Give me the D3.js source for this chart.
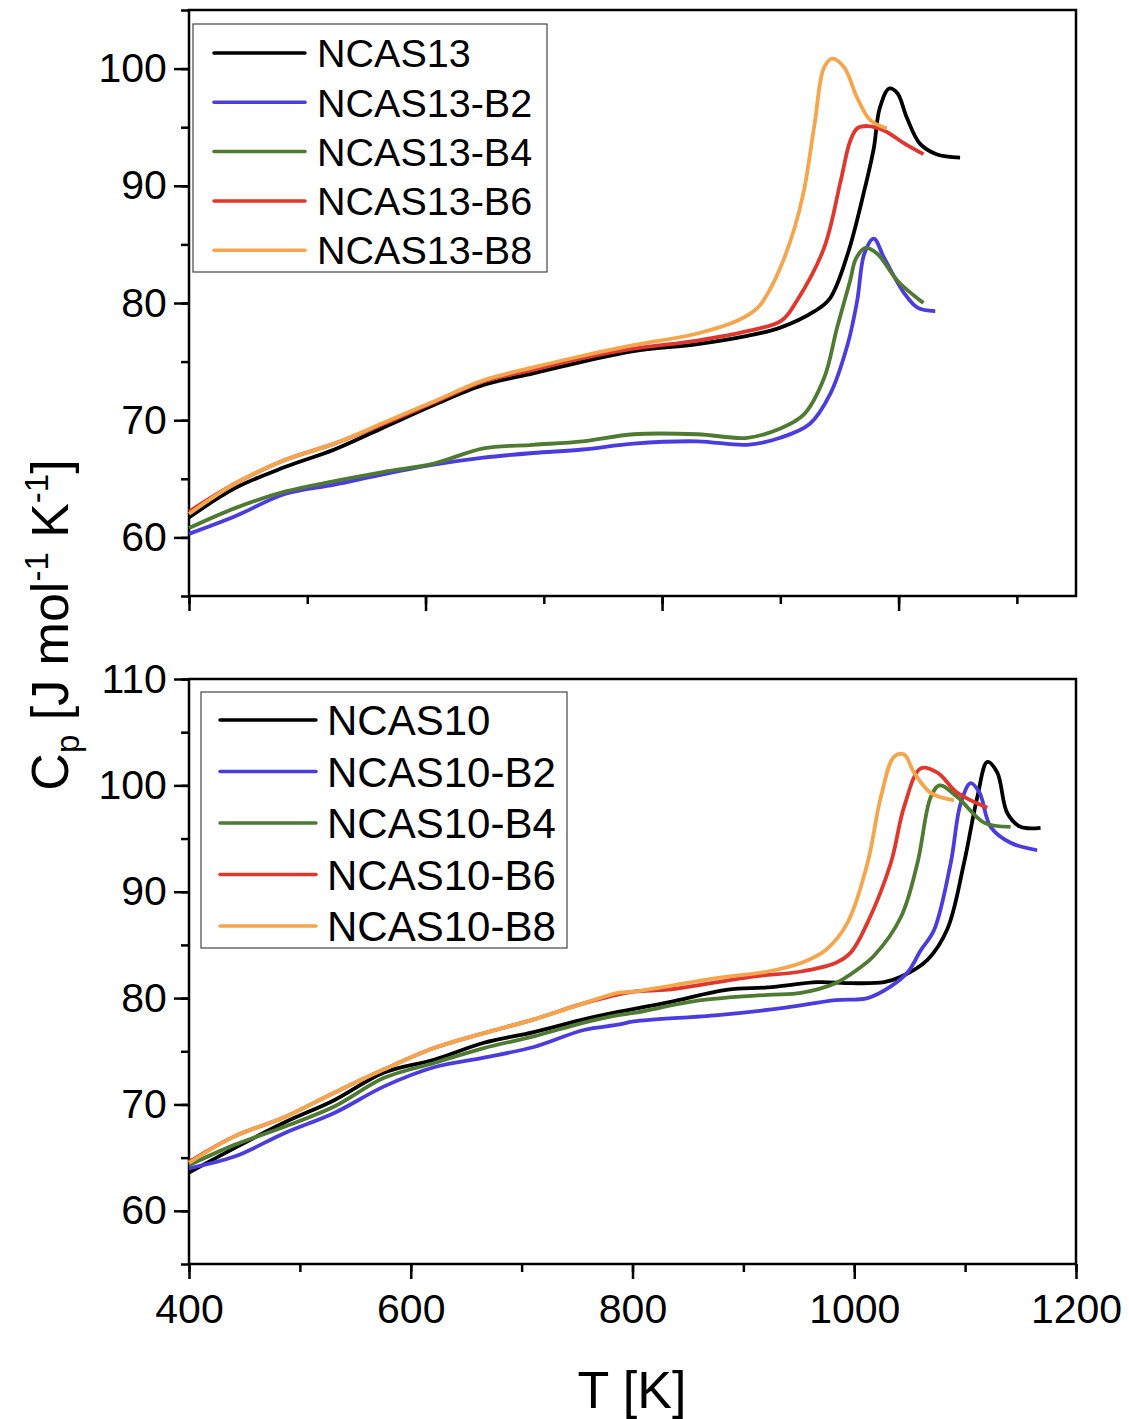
<!DOCTYPE html>
<html>
<head>
<meta charset="utf-8">
<script src="https://cdn.jsdelivr.net/npm/d3@7"></script>
<style>
  body { margin: 0; background: #fff; }
  text { font-family: "Liberation Sans", Arial, sans-serif; fill: #000; }
</style>
</head>
<body>
<div class="container"></div>
<script>
  // series names
  var namesTop = ["NCAS13", "NCAS13-B2", "NCAS13-B4", "NCAS13-B6", "NCAS13-B8"];
  var namesBottom = ["NCAS10", "NCAS10-B2", "NCAS10-B4", "NCAS10-B6", "NCAS10-B8"];
  var colors = ["#000000", "#4b3ce0", "#4e7a32", "#e0362c", "#f5a54c"];

  // tick labels
  var xTicksBottom = [400, 600, 800, 1000, 1200];
  var yTicksTop = [60, 70, 80, 90, 100];
  var yTicksBottom = [60, 70, 80, 90, 100, 110];

  // top panel data [T, Cp]
  var ncas13 = [[400,61.7],[439,64.2],[481,66.0],[523,67.5],[565,69.4],[607,71.3],[649,73.0],[691,74.0],[733,75.0],[776,75.9],[830,76.5],[872,77.2],[900,77.9],[929,79.3],[942,80.4],[957,84.2],[971,89.6],[979,93.2],[984,96.6],[992,98.3],[999,97.9],[1007,95.8],[1018,93.6],[1032,92.7],[1052,92.4]];
  var ncas13b2 = [[400,60.3],[439,61.8],[481,63.7],[523,64.5],[565,65.4],[607,66.2],[649,66.8],[691,67.2],[733,67.5],[776,68.0],[830,68.2],[872,67.9],[900,68.5],[925,69.7],[942,72.2],[957,76.5],[965,80.2],[971,84.2],[979,85.5],[988,83.8],[1005,80.8],[1016,79.6],[1031,79.3]];
  var ncas13b4 = [[400,60.8],[439,62.5],[481,63.9],[523,64.8],[565,65.6],[607,66.3],[649,67.6],[691,67.9],[733,68.2],[776,68.8],[830,68.8],[872,68.5],[900,69.3],[920,70.5],[937,73.6],[948,77.9],[959,81.9],[964,83.8],[972,84.7],[982,84.2],[999,81.9],[1021,80.0]];
  var ncas13b6 = [[400,62.2],[439,64.6],[481,66.6],[523,68.0],[565,69.7],[607,71.5],[649,73.3],[691,74.3],[733,75.3],[776,76.1],[830,76.8],[872,77.6],[901,78.5],[914,80.2],[937,84.7],[951,90.4],[959,93.8],[965,94.9],[974,95.1],[988,94.7],[1005,93.6],[1021,92.7]];
  var ncas13b8 = [[400,62.0],[439,64.6],[481,66.6],[523,68.0],[565,69.8],[607,71.6],[649,73.4],[691,74.5],[733,75.5],[776,76.4],[830,77.4],[864,78.5],[881,79.6],[892,81.3],[900,83.0],[912,86.4],[920,89.6],[929,95.3],[937,100.1],[944,100.85],[954,100.1],[965,97.5],[976,95.6],[990,94.9]];

  // bottom panel data [T, Cp]
  var ncas10 = [[400,63.6],[441,65.9],[486,68.3],[531,70.4],[576,73.0],[621,74.2],[666,75.8],[711,76.8],[756,78.0],[787,78.7],[832,79.6],[886,80.8],[922,81.0],[967,81.5],[997,81.4],[1027,81.5],[1042,82.0],[1066,83.6],[1084,86.5],[1099,92.7],[1111,98.9],[1120,102.2],[1129,101.2],[1138,97.4],[1150,96.1],[1168,96.0]];
  var ncas10b2 = [[400,64.0],[441,65.1],[486,67.3],[531,69.2],[576,71.7],[621,73.5],[666,74.4],[711,75.4],[756,77.0],[787,77.5],[801,77.8],[877,78.4],[938,79.1],[983,79.8],[1012,80.0],[1033,81.1],[1048,82.4],[1060,84.5],[1072,86.4],[1087,92.7],[1096,98.3],[1105,100.2],[1113,99.3],[1123,96.1],[1141,94.6],[1165,93.9]];
  var ncas10b4 = [[400,64.3],[441,66.2],[486,67.9],[531,69.8],[576,72.5],[621,73.9],[666,75.3],[711,76.4],[756,77.7],[787,78.4],[801,78.6],[862,79.8],[922,80.3],[952,80.5],[983,81.4],[1003,82.7],[1018,84.0],[1042,87.6],[1057,92.7],[1069,98.9],[1077,100.0],[1093,98.9],[1117,96.5],[1141,96.1]];
  var ncas10b6 = [[400,64.6],[441,67.0],[486,68.8],[531,71.1],[576,73.3],[621,75.3],[666,76.7],[711,78.0],[756,79.5],[801,80.6],[832,80.8],[907,82.0],[952,82.5],[983,83.3],[997,84.3],[1012,87.1],[1033,92.7],[1045,98.0],[1060,101.6],[1075,101.2],[1093,99.3],[1120,97.9]];
  var ncas10b8 = [[400,64.5],[441,67.0],[486,68.8],[531,71.1],[576,73.3],[621,75.3],[666,76.7],[711,78.0],[756,79.5],[787,80.5],[801,80.6],[877,81.9],[922,82.5],[952,83.3],[974,84.5],[994,87.1],[1012,92.7],[1024,98.9],[1036,102.7],[1045,102.9],[1054,101.2],[1069,99.3],[1090,98.6]];

  var w = 1129;
  var h = 1419;
  var svg = d3.select(".container").append("svg").attr("width", w).attr("height", h);

  //draws one panel
  function drawPanel(opt){
    var x = d3.scaleLinear().domain(opt.xDomain).range([189, 1076]);
    var y = d3.scaleLinear().domain(opt.yDomain).range([opt.bottom, opt.top]);
    var g = svg.append("g");

    // frame
    g.append("rect")
      .attr("x", 189).attr("y", opt.top)
      .attr("width", 1076 - 189).attr("height", opt.bottom - opt.top)
      .attr("fill", "none").attr("stroke", "#000").attr("stroke-width", 2.5);

    // x axis
    var xMinor = d3.range(opt.xDomain[0], opt.xDomain[1] + 1, 100);
    var xMajor = xMinor.filter(function(d){ return d % 200 == 0; });
    var xAxis = g.append("g").attr("transform", "translate(0," + opt.bottom + ")");
    xAxis.call(d3.axisBottom(x).tickValues(xMinor).tickSize(8).tickFormat(""));
    xAxis.append("g").call(d3.axisBottom(x).tickValues(xMajor).tickSize(15)
      .tickFormat(opt.xLabels ? d3.format("d") : ""));
    xAxis.selectAll("path").remove();
    xAxis.selectAll("line").attr("stroke", "#000").attr("stroke-width", 2.5);
    xAxis.selectAll("text").attr("font-size", 41).attr("dy", "1.0em")
      .attr("font-family", "Liberation Sans, Arial, sans-serif");

    // y axis
    var yMinor = d3.range(opt.yDomain[0], opt.yDomain[1] + 1, 5);
    var yAxis = g.append("g").attr("transform", "translate(189,0)");
    yAxis.call(d3.axisLeft(y).tickValues(yMinor).tickSize(8).tickFormat(""));
    yAxis.append("g").call(d3.axisLeft(y).tickValues(opt.yTicks).tickSize(15).tickFormat(d3.format("d")));
    yAxis.selectAll("path").remove();
    yAxis.selectAll("line").attr("stroke", "#000").attr("stroke-width", 2.5);
    yAxis.selectAll("text").attr("font-size", 41).attr("dx", "-0.1em")
      .attr("font-family", "Liberation Sans, Arial, sans-serif");

    // curves
    var line = d3.line()
      .x(function(d){ return x(d[0]); })
      .y(function(d){ return y(d[1]); })
      .curve(d3.curveCatmullRom.alpha(0.5));

    g.selectAll("path.curve")
      .data(opt.series)
      .enter()
      .append("path")
      .attr("class", "curve")
      .attr("d", line)
      .attr("fill", "none")
      .attr("stroke", function(d, i){ return colors[i]; })
      .attr("stroke-width", 3.8)
      .attr("stroke-linejoin", "round");

    // legend
    var lg = opt.legend;
    g.append("rect")
      .attr("x", lg.x).attr("y", lg.y).attr("width", lg.w).attr("height", lg.h)
      .attr("fill", "#fff").attr("stroke", "#444").attr("stroke-width", 1.2);
    opt.names.forEach(function(name, i){
      var yy = lg.y + lg.first + i * lg.step;
      g.append("line")
        .attr("x1", lg.x + lg.l1).attr("x2", lg.x + lg.l2)
        .attr("y1", yy).attr("y2", yy)
        .attr("stroke", colors[i]).attr("stroke-width", 3.5).attr("stroke-linecap", "round");
      g.append("text")
        .attr("x", lg.x + lg.tx).attr("y", yy)
        .attr("dy", "0.36em")
        .attr("font-size", lg.fs)
        .text(name);
    });
  }

  drawPanel({
    xDomain: [400, 1150], yDomain: [55, 105], yTicks: yTicksTop,
    top: 10, bottom: 596, xLabels: false,
    series: [ncas13, ncas13b2, ncas13b4, ncas13b6, ncas13b8],
    names: namesTop,
    legend: {x: 193, y: 24, w: 354, h: 248, first: 29, step: 49.3, l1: 21, l2: 112, tx: 124, fs: 39.5}
  });

  drawPanel({
    xDomain: [400, 1200], yDomain: [55, 110], yTicks: yTicksBottom,
    top: 679, bottom: 1264, xLabels: true,
    series: [ncas10, ncas10b2, ncas10b4, ncas10b6, ncas10b8],
    names: namesBottom,
    legend: {x: 201, y: 692, w: 366, h: 256, first: 28, step: 51.5, l1: 19, l2: 115, tx: 126, fs: 42}
  });

  // axis titles
  svg.append("text")
    .attr("x", 632).attr("y", 1408)
    .attr("text-anchor", "middle")
    .attr("font-size", 52)
    .text("T [K]");

  var yt = svg.append("text")
    .attr("transform", "translate(68,625) rotate(-90)")
    .attr("text-anchor", "middle")
    .attr("font-size", 52);
  yt.append("tspan").text("C");
  yt.append("tspan").attr("font-size", 33).attr("dy", 11).text("p");
  yt.append("tspan").attr("dy", -11).text(" [J mol");
  yt.append("tspan").attr("font-size", 33).attr("dy", -20).text("-1");
  yt.append("tspan").attr("dy", 20).text(" K");
  yt.append("tspan").attr("font-size", 33).attr("dy", -20).text("-1");
  yt.append("tspan").attr("dy", 20).text("]");
</script>
</body>
</html>
